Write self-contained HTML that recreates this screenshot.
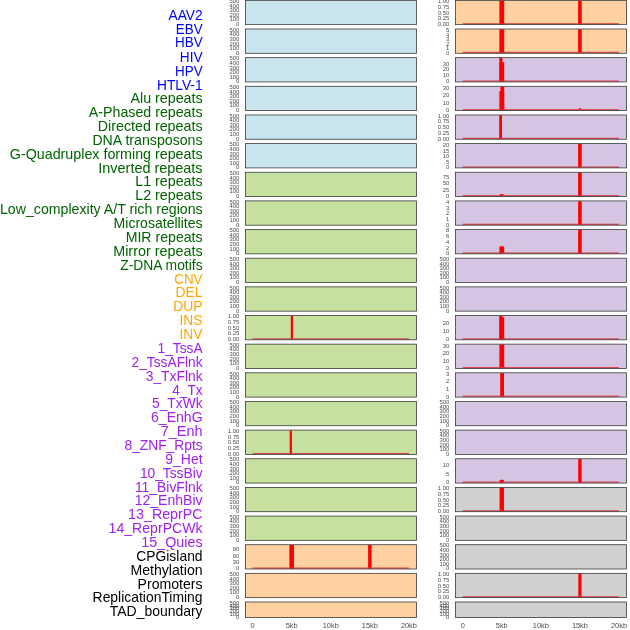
<!DOCTYPE html>
<html><head><meta charset="utf-8"><title>tracks</title>
<style>
html,body{margin:0;padding:0;background:#fff;}
svg{display:block;}
text{font-family:"Liberation Sans",Arial,sans-serif;}
.lb{font-size:14.1px;text-anchor:end;}
.yt{font-size:5.9px;text-anchor:end;fill:#4d4d4d;}
.xt{font-size:7.4px;text-anchor:middle;fill:#4d4d4d;}
</style></head><body>
<svg width="630" height="630" viewBox="0 0 630 630">
<rect width="630" height="630" fill="#ffffff"/>
<rect x="245.4" y="0.35" width="171" height="24.3" fill="#c8e4ec"/>
<rect x="245.4" y="0.35" width="171" height="24.3" fill="none" stroke="#3a3a3a" stroke-width="0.8"/>
<text x="239.3" y="3.05" class="yt">500</text>
<text x="239.3" y="7.65" class="yt">400</text>
<text x="239.3" y="12.25" class="yt">300</text>
<text x="239.3" y="16.85" class="yt">200</text>
<text x="239.3" y="21.45" class="yt">100</text>
<text x="239.3" y="26.05" class="yt">0</text>
<rect x="455.4" y="0.35" width="171" height="24.3" fill="#ffd0a0"/>
<rect x="499.38" y="0.65" width="4.8" height="23.7" rx="0" fill="#ff0000"/>
<rect x="578.12" y="0.65" width="3.6" height="23.7" rx="0" fill="#ff0000"/>
<rect x="462.7" y="23.15" width="156.3" height="1.3" fill="#d8323c" fill-opacity="0.85"/>
<rect x="455.4" y="0.35" width="171" height="24.3" fill="none" stroke="#3a3a3a" stroke-width="0.8"/>
<text x="449.3" y="3.05" class="yt">1.00</text>
<text x="449.3" y="8.8" class="yt">0.75</text>
<text x="449.3" y="14.55" class="yt">0.50</text>
<text x="449.3" y="20.3" class="yt">0.25</text>
<text x="449.3" y="26.05" class="yt">0.00</text>
<rect x="245.4" y="29" width="171" height="24.3" fill="#c8e4ec"/>
<rect x="245.4" y="29" width="171" height="24.3" fill="none" stroke="#3a3a3a" stroke-width="0.8"/>
<text x="239.3" y="31.7" class="yt">500</text>
<text x="239.3" y="36.3" class="yt">400</text>
<text x="239.3" y="40.9" class="yt">300</text>
<text x="239.3" y="45.5" class="yt">200</text>
<text x="239.3" y="50.1" class="yt">100</text>
<text x="239.3" y="54.7" class="yt">0</text>
<rect x="455.4" y="29" width="171" height="24.3" fill="#ffd0a0"/>
<rect x="499.38" y="29.3" width="4.8" height="23.7" rx="0" fill="#ff0000"/>
<rect x="578.12" y="29.3" width="3.6" height="23.7" rx="0" fill="#ff0000"/>
<rect x="462.7" y="51.8" width="156.3" height="1.3" fill="#d8323c" fill-opacity="0.85"/>
<rect x="455.4" y="29" width="171" height="24.3" fill="none" stroke="#3a3a3a" stroke-width="0.8"/>
<text x="449.3" y="32.15" class="yt">5</text>
<text x="449.3" y="36.66" class="yt">4</text>
<text x="449.3" y="41.17" class="yt">3</text>
<text x="449.3" y="45.68" class="yt">2</text>
<text x="449.3" y="50.19" class="yt">1</text>
<text x="449.3" y="54.7" class="yt">0</text>
<rect x="245.4" y="57.65" width="171" height="24.3" fill="#c8e4ec"/>
<rect x="245.4" y="57.65" width="171" height="24.3" fill="none" stroke="#3a3a3a" stroke-width="0.8"/>
<text x="239.3" y="60.35" class="yt">500</text>
<text x="239.3" y="64.95" class="yt">400</text>
<text x="239.3" y="69.55" class="yt">300</text>
<text x="239.3" y="74.15" class="yt">200</text>
<text x="239.3" y="78.75" class="yt">100</text>
<text x="239.3" y="83.35" class="yt">0</text>
<rect x="455.4" y="57.65" width="171" height="24.3" fill="#d5c5e2"/>
<rect x="499.38" y="57.95" width="2.98" height="23.7" fill="#ff0000"/>
<rect x="499.38" y="62.25" width="4.8" height="19.4" fill="#ff0000"/>
<rect x="462.7" y="80.45" width="156.3" height="1.3" fill="#d8323c" fill-opacity="0.85"/>
<rect x="455.4" y="57.65" width="171" height="24.3" fill="none" stroke="#3a3a3a" stroke-width="0.8"/>
<text x="449.3" y="65.57" class="yt">30</text>
<text x="449.3" y="71.49" class="yt">20</text>
<text x="449.3" y="77.42" class="yt">10</text>
<text x="449.3" y="83.35" class="yt">0</text>
<rect x="245.4" y="86.3" width="171" height="24.3" fill="#c8e4ec"/>
<rect x="245.4" y="86.3" width="171" height="24.3" fill="none" stroke="#3a3a3a" stroke-width="0.8"/>
<text x="239.3" y="89" class="yt">500</text>
<text x="239.3" y="93.6" class="yt">400</text>
<text x="239.3" y="98.2" class="yt">300</text>
<text x="239.3" y="102.8" class="yt">200</text>
<text x="239.3" y="107.4" class="yt">100</text>
<text x="239.3" y="112" class="yt">0</text>
<rect x="455.4" y="86.3" width="171" height="24.3" fill="#d5c5e2"/>
<rect x="500.38" y="86.6" width="3.8" height="23.7" fill="#ff0000"/>
<rect x="499.38" y="91.1" width="4.8" height="19.2" fill="#ff0000"/>
<rect x="578.42" y="108.17" width="3" height="2.13" rx="1.2" fill="#ff0000"/>
<rect x="462.7" y="109.1" width="156.3" height="1.3" fill="#d8323c" fill-opacity="0.85"/>
<rect x="455.4" y="86.3" width="171" height="24.3" fill="none" stroke="#3a3a3a" stroke-width="0.8"/>
<text x="449.3" y="90.03" class="yt">30</text>
<text x="449.3" y="97.35" class="yt">20</text>
<text x="449.3" y="104.68" class="yt">10</text>
<text x="449.3" y="112" class="yt">0</text>
<rect x="245.4" y="114.95" width="171" height="24.3" fill="#c8e4ec"/>
<rect x="245.4" y="114.95" width="171" height="24.3" fill="none" stroke="#3a3a3a" stroke-width="0.8"/>
<text x="239.3" y="117.65" class="yt">500</text>
<text x="239.3" y="122.25" class="yt">400</text>
<text x="239.3" y="126.85" class="yt">300</text>
<text x="239.3" y="131.45" class="yt">200</text>
<text x="239.3" y="136.05" class="yt">100</text>
<text x="239.3" y="140.65" class="yt">0</text>
<rect x="455.4" y="114.95" width="171" height="24.3" fill="#d5c5e2"/>
<rect x="499.2" y="115.25" width="2.8" height="23.7" rx="0" fill="#ff0000"/>
<rect x="462.7" y="137.75" width="156.3" height="1.3" fill="#d8323c" fill-opacity="0.85"/>
<rect x="455.4" y="114.95" width="171" height="24.3" fill="none" stroke="#3a3a3a" stroke-width="0.8"/>
<text x="449.3" y="117.65" class="yt">1.00</text>
<text x="449.3" y="123.4" class="yt">0.75</text>
<text x="449.3" y="129.15" class="yt">0.50</text>
<text x="449.3" y="134.9" class="yt">0.25</text>
<text x="449.3" y="140.65" class="yt">0.00</text>
<rect x="245.4" y="143.6" width="171" height="24.3" fill="#c8e4ec"/>
<rect x="245.4" y="143.6" width="171" height="24.3" fill="none" stroke="#3a3a3a" stroke-width="0.8"/>
<text x="239.3" y="146.3" class="yt">500</text>
<text x="239.3" y="150.9" class="yt">400</text>
<text x="239.3" y="155.5" class="yt">300</text>
<text x="239.3" y="160.1" class="yt">200</text>
<text x="239.3" y="164.7" class="yt">100</text>
<text x="239.3" y="169.3" class="yt">0</text>
<rect x="455.4" y="143.6" width="171" height="24.3" fill="#d5c5e2"/>
<rect x="578.12" y="143.9" width="3.6" height="23.7" rx="0" fill="#ff0000"/>
<rect x="462.7" y="166.4" width="156.3" height="1.3" fill="#d8323c" fill-opacity="0.85"/>
<rect x="455.4" y="143.6" width="171" height="24.3" fill="none" stroke="#3a3a3a" stroke-width="0.8"/>
<text x="449.3" y="147.18" class="yt">20</text>
<text x="449.3" y="152.71" class="yt">15</text>
<text x="449.3" y="158.24" class="yt">10</text>
<text x="449.3" y="163.77" class="yt">5</text>
<text x="449.3" y="169.3" class="yt">0</text>
<rect x="245.4" y="172.25" width="171" height="24.3" fill="#c6e0a0"/>
<rect x="245.4" y="172.25" width="171" height="24.3" fill="none" stroke="#3a3a3a" stroke-width="0.8"/>
<text x="239.3" y="174.95" class="yt">500</text>
<text x="239.3" y="179.55" class="yt">400</text>
<text x="239.3" y="184.15" class="yt">300</text>
<text x="239.3" y="188.75" class="yt">200</text>
<text x="239.3" y="193.35" class="yt">100</text>
<text x="239.3" y="197.95" class="yt">0</text>
<rect x="455.4" y="172.25" width="171" height="24.3" fill="#d5c5e2"/>
<rect x="499.67" y="194.12" width="4.2" height="2.13" rx="1.2" fill="#ff0000"/>
<rect x="578.12" y="172.55" width="3.6" height="23.7" rx="0" fill="#ff0000"/>
<rect x="462.7" y="195.05" width="156.3" height="1.3" fill="#d8323c" fill-opacity="0.85"/>
<rect x="455.4" y="172.25" width="171" height="24.3" fill="none" stroke="#3a3a3a" stroke-width="0.8"/>
<text x="449.3" y="178.99" class="yt">75</text>
<text x="449.3" y="185.31" class="yt">50</text>
<text x="449.3" y="191.63" class="yt">25</text>
<text x="449.3" y="197.95" class="yt">0</text>
<rect x="245.4" y="200.9" width="171" height="24.3" fill="#c6e0a0"/>
<rect x="245.4" y="200.9" width="171" height="24.3" fill="none" stroke="#3a3a3a" stroke-width="0.8"/>
<text x="239.3" y="203.6" class="yt">500</text>
<text x="239.3" y="208.2" class="yt">400</text>
<text x="239.3" y="212.8" class="yt">300</text>
<text x="239.3" y="217.4" class="yt">200</text>
<text x="239.3" y="222" class="yt">100</text>
<text x="239.3" y="226.6" class="yt">0</text>
<rect x="455.4" y="200.9" width="171" height="24.3" fill="#d5c5e2"/>
<rect x="578.12" y="201.2" width="3.6" height="23.7" rx="0" fill="#ff0000"/>
<rect x="462.7" y="223.7" width="156.3" height="1.3" fill="#d8323c" fill-opacity="0.85"/>
<rect x="455.4" y="200.9" width="171" height="24.3" fill="none" stroke="#3a3a3a" stroke-width="0.8"/>
<text x="449.3" y="203.83" class="yt">4</text>
<text x="449.3" y="209.52" class="yt">3</text>
<text x="449.3" y="215.21" class="yt">2</text>
<text x="449.3" y="220.91" class="yt">1</text>
<text x="449.3" y="226.6" class="yt">0</text>
<rect x="245.4" y="229.55" width="171" height="24.3" fill="#c6e0a0"/>
<rect x="245.4" y="229.55" width="171" height="24.3" fill="none" stroke="#3a3a3a" stroke-width="0.8"/>
<text x="239.3" y="232.25" class="yt">500</text>
<text x="239.3" y="236.85" class="yt">400</text>
<text x="239.3" y="241.45" class="yt">300</text>
<text x="239.3" y="246.05" class="yt">200</text>
<text x="239.3" y="250.65" class="yt">100</text>
<text x="239.3" y="255.25" class="yt">0</text>
<rect x="455.4" y="229.55" width="171" height="24.3" fill="#d5c5e2"/>
<rect x="499.38" y="246.2" width="4.8" height="7.35" rx="1.2" fill="#ff0000"/>
<rect x="578.12" y="229.85" width="3.6" height="23.7" rx="0" fill="#ff0000"/>
<rect x="462.7" y="252.35" width="156.3" height="1.3" fill="#d8323c" fill-opacity="0.85"/>
<rect x="455.4" y="229.55" width="171" height="24.3" fill="none" stroke="#3a3a3a" stroke-width="0.8"/>
<text x="449.3" y="232.39" class="yt">8</text>
<text x="449.3" y="238.11" class="yt">6</text>
<text x="449.3" y="243.82" class="yt">4</text>
<text x="449.3" y="249.54" class="yt">2</text>
<text x="449.3" y="255.25" class="yt">0</text>
<rect x="245.4" y="258.2" width="171" height="24.3" fill="#c6e0a0"/>
<rect x="245.4" y="258.2" width="171" height="24.3" fill="none" stroke="#3a3a3a" stroke-width="0.8"/>
<text x="239.3" y="260.9" class="yt">500</text>
<text x="239.3" y="265.5" class="yt">400</text>
<text x="239.3" y="270.1" class="yt">300</text>
<text x="239.3" y="274.7" class="yt">200</text>
<text x="239.3" y="279.3" class="yt">100</text>
<text x="239.3" y="283.9" class="yt">0</text>
<rect x="455.4" y="258.2" width="171" height="24.3" fill="#d5c5e2"/>
<rect x="455.4" y="258.2" width="171" height="24.3" fill="none" stroke="#3a3a3a" stroke-width="0.8"/>
<text x="449.3" y="260.9" class="yt">500</text>
<text x="449.3" y="265.5" class="yt">400</text>
<text x="449.3" y="270.1" class="yt">300</text>
<text x="449.3" y="274.7" class="yt">200</text>
<text x="449.3" y="279.3" class="yt">100</text>
<text x="449.3" y="283.9" class="yt">0</text>
<rect x="245.4" y="286.85" width="171" height="24.3" fill="#c6e0a0"/>
<rect x="245.4" y="286.85" width="171" height="24.3" fill="none" stroke="#3a3a3a" stroke-width="0.8"/>
<text x="239.3" y="289.55" class="yt">500</text>
<text x="239.3" y="294.15" class="yt">400</text>
<text x="239.3" y="298.75" class="yt">300</text>
<text x="239.3" y="303.35" class="yt">200</text>
<text x="239.3" y="307.95" class="yt">100</text>
<text x="239.3" y="312.55" class="yt">0</text>
<rect x="455.4" y="286.85" width="171" height="24.3" fill="#d5c5e2"/>
<rect x="455.4" y="286.85" width="171" height="24.3" fill="none" stroke="#3a3a3a" stroke-width="0.8"/>
<text x="449.3" y="289.55" class="yt">500</text>
<text x="449.3" y="294.15" class="yt">400</text>
<text x="449.3" y="298.75" class="yt">300</text>
<text x="449.3" y="303.35" class="yt">200</text>
<text x="449.3" y="307.95" class="yt">100</text>
<text x="449.3" y="312.55" class="yt">0</text>
<rect x="245.4" y="315.5" width="171" height="24.3" fill="#c6e0a0"/>
<rect x="290.81" y="315.8" width="2.2" height="23.7" rx="0" fill="#ff0000"/>
<rect x="252.6" y="338.3" width="156.3" height="1.3" fill="#d8323c" fill-opacity="0.85"/>
<rect x="245.4" y="315.5" width="171" height="24.3" fill="none" stroke="#3a3a3a" stroke-width="0.8"/>
<text x="239.3" y="318.2" class="yt">1.00</text>
<text x="239.3" y="323.95" class="yt">0.75</text>
<text x="239.3" y="329.7" class="yt">0.50</text>
<text x="239.3" y="335.45" class="yt">0.25</text>
<text x="239.3" y="341.2" class="yt">0.00</text>
<rect x="455.4" y="315.5" width="171" height="24.3" fill="#d5c5e2"/>
<rect x="499.38" y="315.8" width="3.12" height="23.7" fill="#ff0000"/>
<rect x="499.38" y="317.3" width="4.8" height="22.2" fill="#ff0000"/>
<rect x="462.7" y="338.3" width="156.3" height="1.3" fill="#d8323c" fill-opacity="0.85"/>
<rect x="455.4" y="315.5" width="171" height="24.3" fill="none" stroke="#3a3a3a" stroke-width="0.8"/>
<text x="449.3" y="325.23" class="yt">20</text>
<text x="449.3" y="333.21" class="yt">10</text>
<text x="449.3" y="341.2" class="yt">0</text>
<rect x="245.4" y="344.15" width="171" height="24.3" fill="#c6e0a0"/>
<rect x="245.4" y="344.15" width="171" height="24.3" fill="none" stroke="#3a3a3a" stroke-width="0.8"/>
<text x="239.3" y="346.85" class="yt">500</text>
<text x="239.3" y="351.45" class="yt">400</text>
<text x="239.3" y="356.05" class="yt">300</text>
<text x="239.3" y="360.65" class="yt">200</text>
<text x="239.3" y="365.25" class="yt">100</text>
<text x="239.3" y="369.85" class="yt">0</text>
<rect x="455.4" y="344.15" width="171" height="24.3" fill="#d5c5e2"/>
<rect x="499.38" y="344.45" width="4.8" height="23.7" rx="0" fill="#ff0000"/>
<rect x="462.7" y="366.95" width="156.3" height="1.3" fill="#d8323c" fill-opacity="0.85"/>
<rect x="455.4" y="344.15" width="171" height="24.3" fill="none" stroke="#3a3a3a" stroke-width="0.8"/>
<text x="449.3" y="347.95" class="yt">30</text>
<text x="449.3" y="355.25" class="yt">20</text>
<text x="449.3" y="362.55" class="yt">10</text>
<text x="449.3" y="369.85" class="yt">0</text>
<rect x="245.4" y="372.8" width="171" height="24.3" fill="#c6e0a0"/>
<rect x="245.4" y="372.8" width="171" height="24.3" fill="none" stroke="#3a3a3a" stroke-width="0.8"/>
<text x="239.3" y="375.5" class="yt">500</text>
<text x="239.3" y="380.1" class="yt">400</text>
<text x="239.3" y="384.7" class="yt">300</text>
<text x="239.3" y="389.3" class="yt">200</text>
<text x="239.3" y="393.9" class="yt">100</text>
<text x="239.3" y="398.5" class="yt">0</text>
<rect x="455.4" y="372.8" width="171" height="24.3" fill="#d5c5e2"/>
<rect x="500.19" y="373.1" width="3.8" height="23.7" rx="0" fill="#ff0000"/>
<rect x="462.7" y="395.6" width="156.3" height="1.3" fill="#d8323c" fill-opacity="0.85"/>
<rect x="455.4" y="372.8" width="171" height="24.3" fill="none" stroke="#3a3a3a" stroke-width="0.8"/>
<text x="449.3" y="375.5" class="yt">3</text>
<text x="449.3" y="383.17" class="yt">2</text>
<text x="449.3" y="390.83" class="yt">1</text>
<text x="449.3" y="398.5" class="yt">0</text>
<rect x="245.4" y="401.45" width="171" height="24.3" fill="#c6e0a0"/>
<rect x="245.4" y="401.45" width="171" height="24.3" fill="none" stroke="#3a3a3a" stroke-width="0.8"/>
<text x="239.3" y="404.15" class="yt">500</text>
<text x="239.3" y="408.75" class="yt">400</text>
<text x="239.3" y="413.35" class="yt">300</text>
<text x="239.3" y="417.95" class="yt">200</text>
<text x="239.3" y="422.55" class="yt">100</text>
<text x="239.3" y="427.15" class="yt">0</text>
<rect x="455.4" y="401.45" width="171" height="24.3" fill="#d5c5e2"/>
<rect x="455.4" y="401.45" width="171" height="24.3" fill="none" stroke="#3a3a3a" stroke-width="0.8"/>
<text x="449.3" y="404.15" class="yt">500</text>
<text x="449.3" y="408.75" class="yt">400</text>
<text x="449.3" y="413.35" class="yt">300</text>
<text x="449.3" y="417.95" class="yt">200</text>
<text x="449.3" y="422.55" class="yt">100</text>
<text x="449.3" y="427.15" class="yt">0</text>
<rect x="245.4" y="430.1" width="171" height="24.3" fill="#c6e0a0"/>
<rect x="289.72" y="430.4" width="2.2" height="23.7" rx="0" fill="#ff0000"/>
<rect x="252.6" y="452.9" width="156.3" height="1.3" fill="#d8323c" fill-opacity="0.85"/>
<rect x="245.4" y="430.1" width="171" height="24.3" fill="none" stroke="#3a3a3a" stroke-width="0.8"/>
<text x="239.3" y="432.8" class="yt">1.00</text>
<text x="239.3" y="438.55" class="yt">0.75</text>
<text x="239.3" y="444.3" class="yt">0.50</text>
<text x="239.3" y="450.05" class="yt">0.25</text>
<text x="239.3" y="455.8" class="yt">0.00</text>
<rect x="455.4" y="430.1" width="171" height="24.3" fill="#d5c5e2"/>
<rect x="455.4" y="430.1" width="171" height="24.3" fill="none" stroke="#3a3a3a" stroke-width="0.8"/>
<text x="449.3" y="432.8" class="yt">500</text>
<text x="449.3" y="437.4" class="yt">400</text>
<text x="449.3" y="442" class="yt">300</text>
<text x="449.3" y="446.6" class="yt">200</text>
<text x="449.3" y="451.2" class="yt">100</text>
<text x="449.3" y="455.8" class="yt">0</text>
<rect x="245.4" y="458.75" width="171" height="24.3" fill="#c6e0a0"/>
<rect x="245.4" y="458.75" width="171" height="24.3" fill="none" stroke="#3a3a3a" stroke-width="0.8"/>
<text x="239.3" y="461.45" class="yt">500</text>
<text x="239.3" y="466.05" class="yt">400</text>
<text x="239.3" y="470.65" class="yt">300</text>
<text x="239.3" y="475.25" class="yt">200</text>
<text x="239.3" y="479.85" class="yt">100</text>
<text x="239.3" y="484.45" class="yt">0</text>
<rect x="455.4" y="458.75" width="171" height="24.3" fill="#d5c5e2"/>
<rect x="499.57" y="479.67" width="4.4" height="3.08" rx="1.2" fill="#ff0000"/>
<rect x="578.22" y="459.05" width="3.4" height="23.7" rx="0" fill="#ff0000"/>
<rect x="462.7" y="481.55" width="156.3" height="1.3" fill="#d8323c" fill-opacity="0.85"/>
<rect x="455.4" y="458.75" width="171" height="24.3" fill="none" stroke="#3a3a3a" stroke-width="0.8"/>
<text x="449.3" y="467.41" class="yt">10</text>
<text x="449.3" y="475.93" class="yt">5</text>
<text x="449.3" y="484.45" class="yt">0</text>
<rect x="245.4" y="487.4" width="171" height="24.3" fill="#c6e0a0"/>
<rect x="245.4" y="487.4" width="171" height="24.3" fill="none" stroke="#3a3a3a" stroke-width="0.8"/>
<text x="239.3" y="490.1" class="yt">500</text>
<text x="239.3" y="494.7" class="yt">400</text>
<text x="239.3" y="499.3" class="yt">300</text>
<text x="239.3" y="503.9" class="yt">200</text>
<text x="239.3" y="508.5" class="yt">100</text>
<text x="239.3" y="513.1" class="yt">0</text>
<rect x="455.4" y="487.4" width="171" height="24.3" fill="#d0d0d0"/>
<rect x="499.57" y="487.7" width="4.4" height="23.7" rx="0" fill="#ff0000"/>
<rect x="462.7" y="510.2" width="156.3" height="1.3" fill="#d8323c" fill-opacity="0.85"/>
<rect x="455.4" y="487.4" width="171" height="24.3" fill="none" stroke="#3a3a3a" stroke-width="0.8"/>
<text x="449.3" y="490.1" class="yt">1.00</text>
<text x="449.3" y="495.85" class="yt">0.75</text>
<text x="449.3" y="501.6" class="yt">0.50</text>
<text x="449.3" y="507.35" class="yt">0.25</text>
<text x="449.3" y="513.1" class="yt">0.00</text>
<rect x="245.4" y="516.05" width="171" height="24.3" fill="#c6e0a0"/>
<rect x="245.4" y="516.05" width="171" height="24.3" fill="none" stroke="#3a3a3a" stroke-width="0.8"/>
<text x="239.3" y="518.75" class="yt">500</text>
<text x="239.3" y="523.35" class="yt">400</text>
<text x="239.3" y="527.95" class="yt">300</text>
<text x="239.3" y="532.55" class="yt">200</text>
<text x="239.3" y="537.15" class="yt">100</text>
<text x="239.3" y="541.75" class="yt">0</text>
<rect x="455.4" y="516.05" width="171" height="24.3" fill="#d0d0d0"/>
<rect x="455.4" y="516.05" width="171" height="24.3" fill="none" stroke="#3a3a3a" stroke-width="0.8"/>
<text x="449.3" y="518.75" class="yt">500</text>
<text x="449.3" y="523.35" class="yt">400</text>
<text x="449.3" y="527.95" class="yt">300</text>
<text x="449.3" y="532.55" class="yt">200</text>
<text x="449.3" y="537.15" class="yt">100</text>
<text x="449.3" y="541.75" class="yt">0</text>
<rect x="245.4" y="544.7" width="171" height="24.3" fill="#ffd0a0"/>
<rect x="289.38" y="545" width="4.6" height="23.7" rx="0" fill="#ff0000"/>
<rect x="368.12" y="545" width="3.4" height="23.7" rx="0" fill="#ff0000"/>
<rect x="252.6" y="567.5" width="156.3" height="1.3" fill="#d8323c" fill-opacity="0.85"/>
<rect x="245.4" y="544.7" width="171" height="24.3" fill="none" stroke="#3a3a3a" stroke-width="0.8"/>
<text x="239.3" y="551.23" class="yt">90</text>
<text x="239.3" y="557.62" class="yt">60</text>
<text x="239.3" y="564.01" class="yt">30</text>
<text x="239.3" y="570.4" class="yt">0</text>
<rect x="455.4" y="544.7" width="171" height="24.3" fill="#d0d0d0"/>
<rect x="455.4" y="544.7" width="171" height="24.3" fill="none" stroke="#3a3a3a" stroke-width="0.8"/>
<text x="449.3" y="547.4" class="yt">500</text>
<text x="449.3" y="552" class="yt">400</text>
<text x="449.3" y="556.6" class="yt">300</text>
<text x="449.3" y="561.2" class="yt">200</text>
<text x="449.3" y="565.8" class="yt">100</text>
<text x="449.3" y="570.4" class="yt">0</text>
<rect x="245.4" y="573.35" width="171" height="24.3" fill="#ffd0a0"/>
<rect x="245.4" y="573.35" width="171" height="24.3" fill="none" stroke="#3a3a3a" stroke-width="0.8"/>
<text x="239.3" y="576.05" class="yt">500</text>
<text x="239.3" y="580.65" class="yt">400</text>
<text x="239.3" y="585.25" class="yt">300</text>
<text x="239.3" y="589.85" class="yt">200</text>
<text x="239.3" y="594.45" class="yt">100</text>
<text x="239.3" y="599.05" class="yt">0</text>
<rect x="455.4" y="573.35" width="171" height="24.3" fill="#d0d0d0"/>
<rect x="578.32" y="573.65" width="3.2" height="23.7" rx="0" fill="#ff0000"/>
<rect x="462.7" y="596.15" width="156.3" height="1.3" fill="#d8323c" fill-opacity="0.85"/>
<rect x="455.4" y="573.35" width="171" height="24.3" fill="none" stroke="#3a3a3a" stroke-width="0.8"/>
<text x="449.3" y="576.05" class="yt">1.00</text>
<text x="449.3" y="581.8" class="yt">0.75</text>
<text x="449.3" y="587.55" class="yt">0.50</text>
<text x="449.3" y="593.3" class="yt">0.25</text>
<text x="449.3" y="599.05" class="yt">0.00</text>
<rect x="245.4" y="602" width="171" height="15.4" fill="#ffd0a0"/>
<rect x="245.4" y="602" width="171" height="15.4" fill="none" stroke="#3a3a3a" stroke-width="0.8"/>
<text x="239.3" y="604.7" class="yt">500</text>
<text x="239.3" y="607.52" class="yt">400</text>
<text x="239.3" y="610.34" class="yt">300</text>
<text x="239.3" y="613.16" class="yt">200</text>
<text x="239.3" y="615.98" class="yt">100</text>
<text x="239.3" y="618.8" class="yt">0</text>
<rect x="455.4" y="602" width="171" height="15.4" fill="#d0d0d0"/>
<rect x="455.4" y="602" width="171" height="15.4" fill="none" stroke="#3a3a3a" stroke-width="0.8"/>
<text x="449.3" y="604.7" class="yt">500</text>
<text x="449.3" y="607.52" class="yt">400</text>
<text x="449.3" y="610.34" class="yt">300</text>
<text x="449.3" y="613.16" class="yt">200</text>
<text x="449.3" y="615.98" class="yt">100</text>
<text x="449.3" y="618.8" class="yt">0</text>
<text x="252.6" y="627.9" class="xt">0</text>
<text x="462.7" y="627.9" class="xt">0</text>
<text x="291.68" y="627.9" class="xt">5kb</text>
<text x="501.77" y="627.9" class="xt">5kb</text>
<text x="330.75" y="627.9" class="xt">10kb</text>
<text x="540.85" y="627.9" class="xt">10kb</text>
<text x="369.82" y="627.9" class="xt">15kb</text>
<text x="579.92" y="627.9" class="xt">15kb</text>
<text x="408.9" y="627.9" class="xt">20kb</text>
<text x="619" y="627.9" class="xt">20kb</text>
<text x="202.6" y="19.75" class="lb" fill="#0000ff" textLength="34.1" lengthAdjust="spacingAndGlyphs">AAV2</text>
<text x="202.6" y="33.62" class="lb" fill="#0000ff" textLength="26.8" lengthAdjust="spacingAndGlyphs">EBV</text>
<text x="202.6" y="47.48" class="lb" fill="#0000ff" textLength="27.6" lengthAdjust="spacingAndGlyphs">HBV</text>
<text x="202.6" y="61.64" class="lb" fill="#0000ff" textLength="22.8" lengthAdjust="spacingAndGlyphs">HIV</text>
<text x="202.6" y="75.51" class="lb" fill="#0000ff" textLength="27.6" lengthAdjust="spacingAndGlyphs">HPV</text>
<text x="202.6" y="90.08" class="lb" fill="#0000ff" textLength="45.6" lengthAdjust="spacingAndGlyphs">HTLV-1</text>
<text x="202.6" y="102.94" class="lb" fill="#006400" textLength="72.1" lengthAdjust="spacingAndGlyphs">Alu repeats</text>
<text x="202.6" y="116.81" class="lb" fill="#006400" textLength="113.8" lengthAdjust="spacingAndGlyphs">A-Phased repeats</text>
<text x="202.6" y="130.67" class="lb" fill="#006400" textLength="104.9" lengthAdjust="spacingAndGlyphs">Directed repeats</text>
<text x="202.6" y="144.53" class="lb" fill="#006400" textLength="110.2" lengthAdjust="spacingAndGlyphs">DNA transposons</text>
<text x="202.6" y="159.4" class="lb" fill="#006400" textLength="192.8" lengthAdjust="spacingAndGlyphs">G-Quadruplex forming repeats</text>
<text x="202.6" y="173.07" class="lb" fill="#006400" textLength="104.3" lengthAdjust="spacingAndGlyphs">Inverted repeats</text>
<text x="202.6" y="186.43" class="lb" fill="#006400" textLength="67.3" lengthAdjust="spacingAndGlyphs">L1 repeats</text>
<text x="202.6" y="200" class="lb" fill="#006400" textLength="67.3" lengthAdjust="spacingAndGlyphs">L2 repeats</text>
<text x="202.6" y="213.86" class="lb" fill="#006400" textLength="202.6" lengthAdjust="spacingAndGlyphs">Low_complexity A/T rich regions</text>
<text x="202.6" y="227.72" class="lb" fill="#006400" textLength="89.0" lengthAdjust="spacingAndGlyphs">Microsatellites</text>
<text x="202.6" y="241.59" class="lb" fill="#006400" textLength="76.9" lengthAdjust="spacingAndGlyphs">MIR repeats</text>
<text x="202.6" y="256.46" class="lb" fill="#006400" textLength="89.4" lengthAdjust="spacingAndGlyphs">Mirror repeats</text>
<text x="202.6" y="270.42" class="lb" fill="#006400" textLength="82.4" lengthAdjust="spacingAndGlyphs">Z-DNA motifs</text>
<text x="202.6" y="283.79" class="lb" fill="#ffa500" textLength="28.4" lengthAdjust="spacingAndGlyphs">CNV</text>
<text x="202.6" y="297.35" class="lb" fill="#ffa500" textLength="27.0" lengthAdjust="spacingAndGlyphs">DEL</text>
<text x="202.6" y="310.92" class="lb" fill="#ffa500" textLength="29.4" lengthAdjust="spacingAndGlyphs">DUP</text>
<text x="202.6" y="324.78" class="lb" fill="#ffa500" textLength="23.1" lengthAdjust="spacingAndGlyphs">INS</text>
<text x="202.6" y="338.64" class="lb" fill="#ffa500" textLength="23.1" lengthAdjust="spacingAndGlyphs">INV</text>
<text x="202.6" y="352.51" class="lb" fill="#a020f0" textLength="45.0" lengthAdjust="spacingAndGlyphs">1_TssA</text>
<text x="202.6" y="367.18" class="lb" fill="#a020f0" textLength="71.0" lengthAdjust="spacingAndGlyphs">2_TssAFlnk</text>
<text x="202.6" y="380.84" class="lb" fill="#a020f0" textLength="56.9" lengthAdjust="spacingAndGlyphs">3_TxFlnk</text>
<text x="202.6" y="395.11" class="lb" fill="#a020f0" textLength="30.4" lengthAdjust="spacingAndGlyphs">4_Tx</text>
<text x="202.6" y="407.97" class="lb" fill="#a020f0" textLength="50.6" lengthAdjust="spacingAndGlyphs">5_TxWk</text>
<text x="202.6" y="421.83" class="lb" fill="#a020f0" textLength="51.6" lengthAdjust="spacingAndGlyphs">6_EnhG</text>
<text x="202.6" y="436" class="lb" fill="#a020f0" textLength="41.9" lengthAdjust="spacingAndGlyphs">7_Enh</text>
<text x="202.6" y="449.87" class="lb" fill="#a020f0" textLength="78.1" lengthAdjust="spacingAndGlyphs">8_ZNF_Rpts</text>
<text x="202.6" y="464.43" class="lb" fill="#a020f0" textLength="37.3" lengthAdjust="spacingAndGlyphs">9_Het</text>
<text x="202.6" y="478.3" class="lb" fill="#a020f0" textLength="62.7" lengthAdjust="spacingAndGlyphs">10_TssBiv</text>
<text x="202.6" y="492.16" class="lb" fill="#a020f0" textLength="67.7" lengthAdjust="spacingAndGlyphs">11_BivFlnk</text>
<text x="202.6" y="505.03" class="lb" fill="#a020f0" textLength="67.9" lengthAdjust="spacingAndGlyphs">12_EnhBiv</text>
<text x="202.6" y="518.89" class="lb" fill="#a020f0" textLength="74.5" lengthAdjust="spacingAndGlyphs">13_ReprPC</text>
<text x="202.6" y="532.75" class="lb" fill="#a020f0" textLength="94.0" lengthAdjust="spacingAndGlyphs">14_ReprPCWk</text>
<text x="202.6" y="546.62" class="lb" fill="#a020f0" textLength="61.3" lengthAdjust="spacingAndGlyphs">15_Quies</text>
<text x="202.6" y="561.28" class="lb" fill="#000000" textLength="66.4" lengthAdjust="spacingAndGlyphs">CPGisland</text>
<text x="202.6" y="575.15" class="lb" fill="#000000" textLength="72.2" lengthAdjust="spacingAndGlyphs">Methylation</text>
<text x="202.6" y="589.01" class="lb" fill="#000000" textLength="65.0" lengthAdjust="spacingAndGlyphs">Promoters</text>
<text x="202.6" y="602.08" class="lb" fill="#000000" textLength="110.0" lengthAdjust="spacingAndGlyphs">ReplicationTiming</text>
<text x="202.6" y="615.95" class="lb" fill="#000000" textLength="92.8" lengthAdjust="spacingAndGlyphs">TAD_boundary</text>
</svg>
</body></html>
